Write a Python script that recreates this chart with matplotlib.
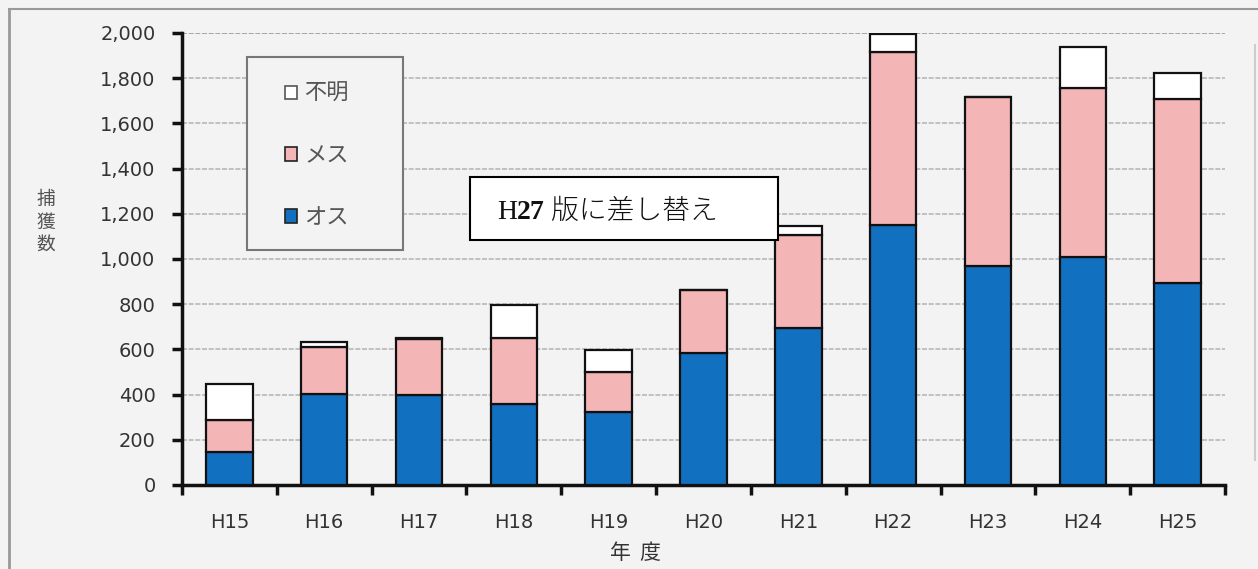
import matplotlib
matplotlib.use("Agg")
import matplotlib.pyplot as plt
from matplotlib.patches import Patch, Rectangle
import numpy as np

plt.rcParams['font.family'] = ['DejaVu Sans', 'Noto Sans CJK JP']

categories = ["H15", "H16", "H17", "H18", "H19", "H20", "H21", "H22", "H23", "H24", "H25"]
male = [147, 403, 398, 358, 322, 585, 693, 1152, 970, 1007, 892]
female = [141, 209, 247, 294, 177, 278, 413, 763, 746, 748, 817]
unknown = [159, 19, 7, 143, 100, 0, 40, 79, 0, 185, 113]
yticks = [0, 200, 400, 600, 800, 1000, 1200, 1400, 1600, 1800, 2000]

bg = "#f3f3f3"
blue = "#1170c0"
pink = "#f4b5b7"

W, H = 1258, 569
fig = plt.figure(figsize=(W/100, H/100), dpi=100, facecolor=bg)
ax = fig.add_axes([182/W, 1-485/H, (1225-182)/W, (485-33)/H])
ax.set_facecolor(bg)

x = np.arange(len(categories))
w = 0.49
male = np.array(male); female = np.array(female); unknown = np.array(unknown)
ax.bar(x, male, w, color=blue, edgecolor="#111111", linewidth=1.6, zorder=3)
ax.bar(x, female, w, bottom=male, color=pink, edgecolor="#111111", linewidth=1.6, zorder=3)
ax.bar(x, unknown, w, bottom=male+female, color="white", edgecolor="#111111", linewidth=1.6, zorder=3)

ax.set_xlim(-0.5, len(categories)-0.5)
ax.set_ylim(0, 2000)
ax.set_yticks(yticks)
ax.set_yticklabels([f"{v:,}" for v in yticks], fontsize=14, color="#333333")
ax.set_xticks(x)
ax.set_xticklabels(categories, fontsize=14, color="#333333")
ax.set_xticks(np.arange(-0.5, len(categories)), minor=True)
ax.tick_params(axis='x', which='major', length=0, pad=20)
ax.tick_params(axis='x', which='minor', length=7, width=2.5, color="#111111")
ax.tick_params(axis='y', length=7, width=2.5, color="#111111", pad=12)

for s in ['top', 'right']:
    ax.spines[s].set_visible(False)
for s in ['left', 'bottom']:
    ax.spines[s].set_linewidth(2.5)
    ax.spines[s].set_color("#111111")

for v in yticks[1:]:
    ax.axhline(v, color="#b8b8b8" if v < 2000 else "#999999", linewidth=1.2,
               linestyle=(0, (3, 1)), zorder=1)

# axis labels
fig.text(46/W, 1-222/H, "捕\n獲\n数", fontsize=13.5, color="#555555",
         ha='center', va='center', linespacing=1.1, family=['Noto Sans CJK JP'])
fig.text(635/W, 1-553/H, "年  度", fontsize=15, color="#333333",
         ha='center', va='center', family=['Noto Sans CJK JP'])

# legend
frame = Rectangle((247/W, 1-250/H), (403-247)/W, (250-57)/H,
                  transform=fig.transFigure, facecolor=bg, edgecolor="#777777",
                  linewidth=1.5, zorder=5)
fig.patches.append(frame)
handles = [Patch(facecolor="white", edgecolor="#555555", linewidth=1.2),
           Patch(facecolor=pink, edgecolor="#222222", linewidth=1.2),
           Patch(facecolor=blue, edgecolor="#222222", linewidth=1.2)]
leg = fig.legend(handles, ["不明", "メス", "オス"], loc='upper left',
                 bbox_to_anchor=(274/W, 1-71/H), frameon=False,
                 handlelength=0.55, handleheight=0.55,
                 handletextpad=0.3, labelspacing=1.75, borderpad=0,
                 prop={'family': ['Noto Sans CJK JP'], 'size': 16})
for t in leg.get_texts():
    t.set_color("#555555")
leg.set_zorder(6)

# note box
note = Rectangle((470/W, 1-240/H), (778-470)/W, (240-177)/H,
                 transform=fig.transFigure, facecolor="white", edgecolor="black",
                 linewidth=1.5, zorder=8)
fig.patches.append(note)
base = 1-219/H
t1 = fig.text(497/W, base, "H", fontsize=20, family=['Liberation Serif'],
              color="#111111", ha='left', va='baseline', zorder=9)
t2 = fig.text(0, 0, "27", fontsize=20, family=['Liberation Serif'], weight='bold',
              color="#111111", ha='left', va='baseline', zorder=9)
t3 = fig.text(0, 0, " 版に差し替え", fontsize=20, family=['Noto Sans CJK JP'],
              weight='light', color="#111111", ha='left', va='baseline', zorder=9)
fig.canvas.draw()
r = fig.canvas.get_renderer()
bb = t1.get_window_extent(r)
t2.set_position((bb.x1 / fig.bbox.width, base))
bb = t2.get_window_extent(r)
t3.set_position((bb.x1 / fig.bbox.width, base))

# outer frame lines
fig.add_artist(plt.Line2D([9/W, 9/W], [0, 1-9/H], transform=fig.transFigure,
                          color="#999999", linewidth=2))
fig.add_artist(plt.Line2D([9/W, 1], [1-9/H, 1-9/H], transform=fig.transFigure,
                          color="#999999", linewidth=1.5))
fig.add_artist(plt.Line2D([1255/W, 1255/W], [1-460/H, 1-45/H], transform=fig.transFigure,
                          color="#cccccc", linewidth=1.5))

fig.savefig("out.png", dpi=100, facecolor=bg)
